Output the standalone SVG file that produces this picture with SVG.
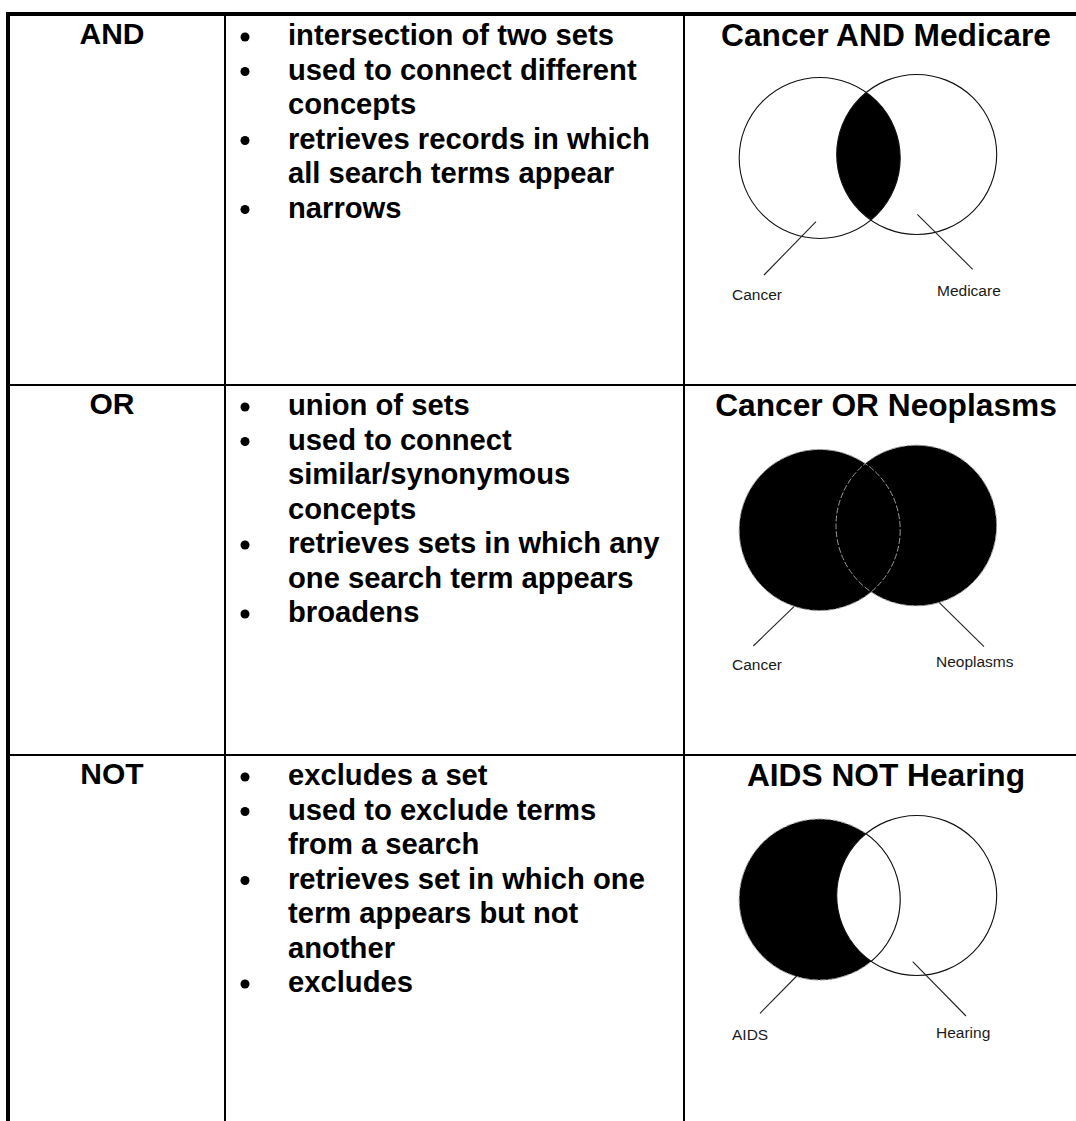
<svg xmlns="http://www.w3.org/2000/svg" width="1076" height="1121" viewBox="0 0 1076 1121">
<style>
.h{font-family:"Liberation Sans",Arial,sans-serif;font-weight:bold;font-size:30px;text-anchor:middle;fill:#000}
.b{font-family:"Liberation Sans",Arial,sans-serif;font-weight:bold;font-size:29.2px;fill:#000}
.t{font-family:"Liberation Sans",Arial,sans-serif;font-weight:bold;font-size:31.7px;text-anchor:middle;fill:#000}
.l{font-family:"Liberation Sans",Arial,sans-serif;font-size:15.5px;fill:#1a1a1a}
.o{fill:none;stroke:#111;stroke-width:1.1}
.g{fill:none;stroke:#9a9a9a;stroke-width:1;stroke-dasharray:6 2}
.k{fill:#000}
.w{fill:#fff}
.ld{stroke:#222;stroke-width:1.1}
.dot{fill:#000}
</style>
<defs>
<clipPath id="clipAndL"><circle cx="819.7" cy="158" r="80.5"/></clipPath>
<clipPath id="clipNotL"><circle cx="819.7" cy="899.5" r="80.5"/></clipPath>
<clipPath id="clipNotR"><circle cx="916.7" cy="895.5" r="80"/></clipPath>
</defs>
<rect width="1076" height="1121" fill="#fff"/>
<g id="grid" fill="#000">
<rect x="6" y="12" width="1070" height="4"/>
<rect x="6" y="12" width="4" height="1109"/>
<rect x="224" y="16" width="2" height="1105"/>
<rect x="683" y="16" width="2" height="1105"/>
<rect x="10" y="384" width="1066" height="2"/>
<rect x="10" y="754" width="1066" height="2"/>
</g>

<g id="row-and">
<text class="h" x="112" y="44">AND</text>
<g id="and-bullets">
<circle class="dot" cx="245" cy="37" r="4.5"/>
<circle class="dot" cx="245" cy="71.5" r="4.5"/>
<circle class="dot" cx="245" cy="140.5" r="4.5"/>
<circle class="dot" cx="245" cy="209.5" r="4.5"/>
<text class="b" x="288" y="45">intersection of two sets</text>
<text class="b" x="288" y="79.5">used to connect different</text>
<text class="b" x="288" y="114">concepts</text>
<text class="b" x="288" y="148.5">retrieves records in which</text>
<text class="b" x="288" y="183">all search terms appear</text>
<text class="b" x="288" y="217.5">narrows</text>
</g>
<g id="and-venn">
<text class="t" x="886" y="46">Cancer AND Medicare</text>
<circle class="k" cx="916.7" cy="154.5" r="80" clip-path="url(#clipAndL)"/>
<circle class="o" cx="819.7" cy="158" r="80.5"/>
<circle class="o" cx="916.7" cy="154.5" r="80"/>
<line class="ld" x1="816" y1="221.7" x2="764" y2="275"/>
<line class="ld" x1="917.3" y1="214.3" x2="972.7" y2="269.3"/>
<text class="l" x="732" y="300">Cancer</text>
<text class="l" x="937" y="296">Medicare</text>
</g>
</g>

<g id="row-or">
<text class="h" x="112" y="414">OR</text>
<g id="or-bullets">
<circle class="dot" cx="245" cy="407" r="4.5"/>
<circle class="dot" cx="245" cy="441.5" r="4.5"/>
<circle class="dot" cx="245" cy="545" r="4.5"/>
<circle class="dot" cx="245" cy="614" r="4.5"/>
<text class="b" x="288" y="415">union of sets</text>
<text class="b" x="288" y="449.5">used to connect</text>
<text class="b" x="288" y="484">similar/synonymous</text>
<text class="b" x="288" y="518.5">concepts</text>
<text class="b" x="288" y="553">retrieves sets in which any</text>
<text class="b" x="288" y="587.5">one search term appears</text>
<text class="b" x="288" y="622">broadens</text>
</g>
<g id="or-venn">
<text class="t" x="886" y="416">Cancer OR Neoplasms</text>
<circle class="k" cx="819.7" cy="530" r="80.5"/>
<circle class="k" cx="916.3" cy="525.5" r="80.3"/>
<circle class="g" cx="819.7" cy="530" r="80.5"/>
<circle class="g" cx="916.3" cy="525.5" r="80.3"/>
<line class="ld" x1="794" y1="606.7" x2="753.3" y2="646"/>
<line class="ld" x1="939.3" y1="602.7" x2="984" y2="646.7"/>
<text class="l" x="732" y="670">Cancer</text>
<text class="l" x="936" y="666.5">Neoplasms</text>
</g>
</g>

<g id="row-not">
<text class="h" x="112" y="784">NOT</text>
<g id="not-bullets">
<circle class="dot" cx="245" cy="777" r="4.5"/>
<circle class="dot" cx="245" cy="811.5" r="4.5"/>
<circle class="dot" cx="245" cy="880.5" r="4.5"/>
<circle class="dot" cx="245" cy="984" r="4.5"/>
<text class="b" x="288" y="785">excludes a set</text>
<text class="b" x="288" y="819.5">used to exclude terms</text>
<text class="b" x="288" y="854">from a search</text>
<text class="b" x="288" y="888.5">retrieves set in which one</text>
<text class="b" x="288" y="923">term appears but not</text>
<text class="b" x="288" y="957.5">another</text>
<text class="b" x="288" y="992">excludes</text>
</g>
<g id="not-venn">
<text class="t" x="886" y="786">AIDS NOT Hearing</text>
<circle class="k" cx="819.7" cy="899.5" r="80.5"/>
<circle class="g" cx="819.7" cy="899.5" r="80.5"/>
<circle class="w" cx="916.7" cy="895.5" r="80" clip-path="url(#clipNotL)"/>
<circle class="o" cx="916.7" cy="895.5" r="80"/>
<circle class="o" cx="819.7" cy="899.5" r="80.5" clip-path="url(#clipNotR)"/>
<line class="ld" x1="796.7" y1="976" x2="760" y2="1013.3"/>
<line class="ld" x1="912.7" y1="961.7" x2="966" y2="1016"/>
<text class="l" x="732" y="1040">AIDS</text>
<text class="l" x="936" y="1037.5">Hearing</text>
</g>
</g>
</svg>
